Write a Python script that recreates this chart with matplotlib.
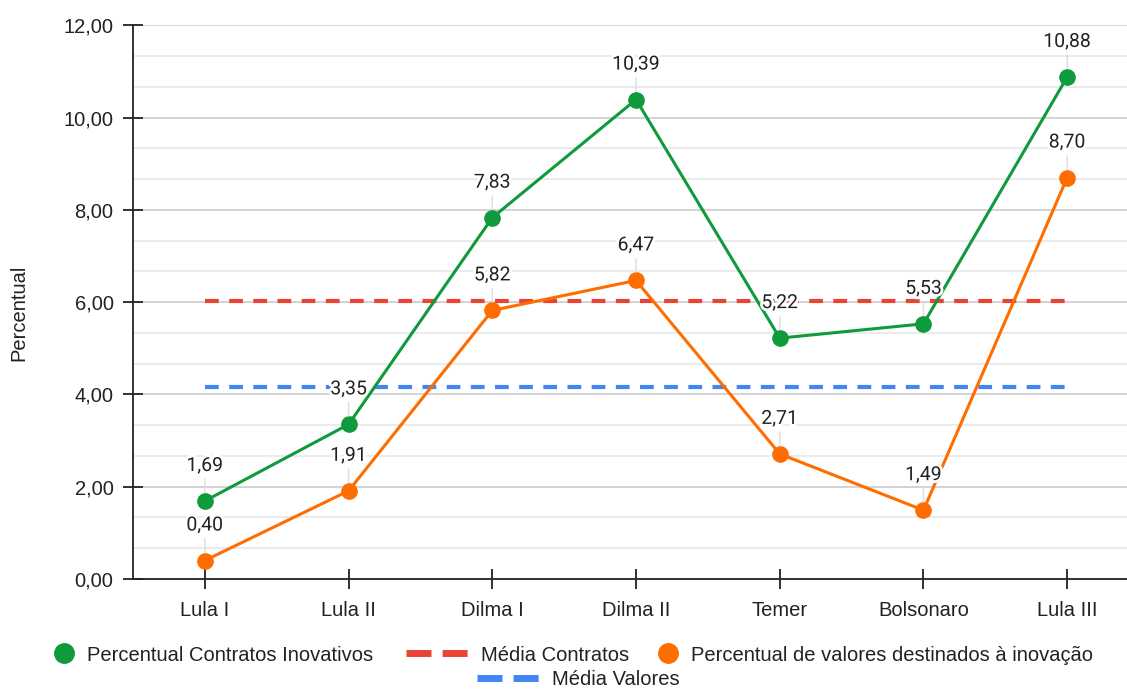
import matplotlib.pyplot as plt
import matplotlib.patheffects as pe
from matplotlib.lines import Line2D
from matplotlib.ticker import MultipleLocator, FuncFormatter

# Dados por governo
governos = ['Lula I', 'Lula II', 'Dilma I', 'Dilma II', 'Temer', 'Bolsonaro', 'Lula III']
contratos = [1.69, 3.35, 7.83, 10.39, 5.22, 5.53, 10.88]
valores = [0.40, 1.91, 5.82, 6.47, 2.71, 1.49, 8.70]
media_contratos = 6.03
media_valores = 4.15

verde = '#0f9a3c'
laranja = '#ff6d01'
vermelho = '#ea4335'
azul = '#4285f4'
texto = '#222222'

plt.rcParams['font.family'] = ['Liberation Sans', 'DejaVu Sans']

fig = plt.figure(figsize=(11.27, 6.89), dpi=100)
ax = fig.add_axes([0.118, 0.1597, 0.8927, 0.8036])

x = list(range(len(governos)))

# linhas de média
ax.plot([x[0], x[-1]], [media_contratos] * 2, color=vermelho, lw=3, ls=(0, (3.3, 2.5)), zorder=2)
ax.plot([x[0], x[-1]], [media_valores] * 2, color=azul, lw=3, ls=(0, (3.3, 2.5)), zorder=2)

ax.plot(x, contratos, color=verde, lw=2.2, marker='o', ms=11, zorder=3)
ax.plot(x, valores, color=laranja, lw=2.2, marker='o', ms=11, zorder=3)

# rótulos de valor com linha guia
halo = [pe.withStroke(linewidth=4, foreground='white')]
for serie in (contratos, valores):
    for xi, v in zip(x, serie):
        ax.annotate(f'{v:.2f}'.replace('.', ','), (xi, v), xytext=(0, 30),
                    textcoords='offset pixels', ha='center', va='baseline',
                    fontsize=14, family=['Roboto', 'DejaVu Sans'], color=texto,
                    path_effects=halo, zorder=5,
                    arrowprops=dict(arrowstyle='-', color='#dddddd', lw=1,
                                    shrinkA=1, shrinkB=6))

ax.set_xlim(-0.5, 6.5)
ax.set_ylim(0, 12)
ax.set_xticks(x)
ax.set_xticklabels(governos)
ax.yaxis.set_major_locator(MultipleLocator(2))
ax.yaxis.set_minor_locator(MultipleLocator(2 / 3))
ax.yaxis.set_major_formatter(FuncFormatter(lambda v, p: f'{v:.2f}'.replace('.', ',')))

ax.grid(axis='y', which='major', color='#cccccc', lw=1.2, zorder=0)
ax.grid(axis='y', which='minor', color='#e8e8e8', lw=1.2, zorder=0)
ax.set_axisbelow(True)

for s in ('top', 'right'):
    ax.spines[s].set_visible(False)
for s in ('left', 'bottom'):
    ax.spines[s].set_linewidth(1.3)
    ax.spines[s].set_color(texto)

ax.tick_params(axis='both', which='major', direction='inout', length=14, width=1.3,
               labelsize=14.5, colors=texto)
ax.tick_params(axis='y', which='minor', length=0)
ax.tick_params(axis='x', pad=9)
ax.tick_params(axis='y', pad=7)

ax.set_ylabel('Percentual', fontsize=14.5, color=texto)
ax.yaxis.set_label_coords(-0.104, 0.48)

# legenda: uma entrada por vez para controlar as posições
def entrada(handle, rotulo, x0, y0, comprimento, pad):
    leg = fig.legend([handle], [rotulo], loc='center left', bbox_to_anchor=(x0, y0),
                     frameon=False, fontsize=14.5, handlelength=comprimento,
                     handletextpad=pad, borderpad=0, borderaxespad=0)
    for t in leg.get_texts():
        t.set_color(texto)

tracejado = (0, (3.6, 1.6))
entrada(Line2D([], [], color=verde, marker='o', ls='none', ms=14),
        'Percentual Contratos Inovativos', 54 / 1127, 0.0493, 1.0, 0.66)
entrada(Line2D([], [], color=vermelho, lw=5, ls=tracejado),
        'Média Contratos', 406 / 1127, 0.0493, 3.1, 0.6)
entrada(Line2D([], [], color=laranja, marker='o', ls='none', ms=14),
        'Percentual de valores destinados à inovação', 658 / 1127, 0.0493, 1.0, 0.66)
entrada(Line2D([], [], color=azul, lw=5, ls=tracejado),
        'Média Valores', 477 / 1127, 0.0135, 3.1, 0.6)

fig.savefig('out.png', dpi=100)
